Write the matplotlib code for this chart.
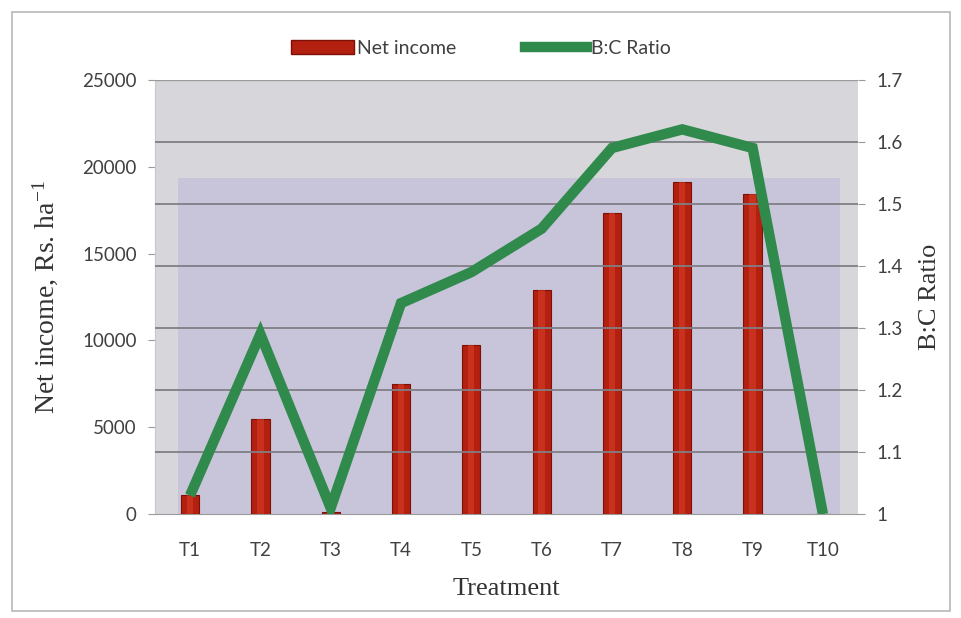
import matplotlib
matplotlib.use("Agg")
import matplotlib.pyplot as plt
from matplotlib.patches import Rectangle
from matplotlib.lines import Line2D

# treatments and measured values
treatments = ["T1", "T2", "T3", "T4", "T5", "T6", "T7", "T8", "T9", "T10"]
net_income = [1100, 5500, 100, 7500, 9750, 12900, 17350, 19100, 18450, 0]
bc_ratio = [1.03, 1.29, 1.01, 1.34, 1.39, 1.46, 1.59, 1.62, 1.59, 1.0]

income_ticks = [0, 5000, 10000, 15000, 20000, 25000]
ratio_ticks = [1, 1.1, 1.2, 1.3, 1.4, 1.5, 1.6, 1.7]
ratio_labels = ["1", "1.1", "1.2", "1.3", "1.4", "1.5", "1.6", "1.7"]

tick_font = "Lato"
label_font = "Liberation Serif"
bar_red = "#b3200f"
line_green = "#2f8a4c"

plt.rcParams["mathtext.fontset"] = "custom"
plt.rcParams["mathtext.rm"] = label_font
plt.rcParams["mathtext.it"] = label_font

fig = plt.figure(figsize=(9.62, 6.18), dpi=100)
fig.patch.set_facecolor("white")
# thin frame round the whole chart
fig.add_artist(Rectangle((0.012, 0.012), 0.976, 0.968, transform=fig.transFigure,
                         fill=False, edgecolor="#b8b8b8", linewidth=1.2))

ax = fig.add_axes([0.161, 0.168, 0.731, 0.703])
ax2 = ax.twinx()

ax.set_facecolor("#d7d6da")
# inner lavender panel
ax.add_patch(Rectangle((0.033, 0.0), 0.941, 0.774, transform=ax.transAxes,
                       facecolor="#c8c4da", edgecolor="none", zorder=0))

x = list(range(len(treatments)))
ax.bar(x, net_income, width=0.26, color=bar_red, edgecolor="#7d1006",
       linewidth=0.8, zorder=3)
# soft highlight down the middle of each bar
ax.bar(x, net_income, width=0.09, color="#d8402a", alpha=0.55, linewidth=0, zorder=3)
ax.set_xlim(-0.5, len(treatments) - 0.5)
ax.set_ylim(0, 25000)
ax.set_yticks(income_ticks)
ax.set_xticks(x)
ax.set_xticklabels(treatments)

ax2.plot(x, bc_ratio, color=line_green, linewidth=7.5, solid_joinstyle="miter",
         solid_capstyle="butt", zorder=4)
ax2.set_ylim(1, 1.7)
ax2.set_yticks(ratio_ticks)
ax2.set_yticklabels(ratio_labels)
# horizontal grid follows the ratio axis
for v in ratio_ticks[1:-1]:
    ax2.axhline(v, color="#7f7f86", linewidth=1.3, zorder=2)
ax2.axhline(1.7, color="#9a9a9a", linewidth=1.0, zorder=2)

for a in (ax, ax2):
    for s in a.spines.values():
        s.set_visible(False)
ax.spines["bottom"].set_visible(True)
ax.spines["bottom"].set_color("#9a9a9a")
ax.spines["left"].set_visible(True)
ax.spines["left"].set_color("#c8c8c8")

ax.tick_params(axis="y", length=5, color="#9a9a9a", labelsize=13.5, labelcolor="#404040", pad=8)
ax.tick_params(axis="x", length=0, labelsize=13.5, labelcolor="#404040", pad=20)
ax2.tick_params(axis="y", length=5, color="#9a9a9a", labelsize=13.5, labelcolor="#404040", pad=8)
for lbl in ax.get_xticklabels() + ax.get_yticklabels() + ax2.get_yticklabels():
    lbl.set_fontfamily(tick_font)

ax.set_xlabel("Treatment", fontfamily=label_font, fontsize=19, color="#333333", labelpad=14)
ax.set_ylabel("Net income, Rs. ha$^{\\mathrm{-1}}$", fontfamily=label_font, fontsize=20,
              color="#333333", labelpad=16)
ax2.set_ylabel("B:C Ratio", fontfamily=label_font, fontsize=19, color="#333333", labelpad=12)

handles = [Rectangle((0, 0), 1, 1, facecolor=bar_red, edgecolor="#7d1006"),
           Line2D([0], [0], color=line_green, linewidth=7.5)]
fig.legend(handles, ["Net income", "B:C Ratio"], loc="center", bbox_to_anchor=(0.5, 0.922),
           ncol=2, frameon=False, prop={"family": tick_font, "size": 14},
           handlelength=3.2, handletextpad=0.2, columnspacing=3.5, labelcolor="#404040")

fig.savefig("out.png", dpi=100)
